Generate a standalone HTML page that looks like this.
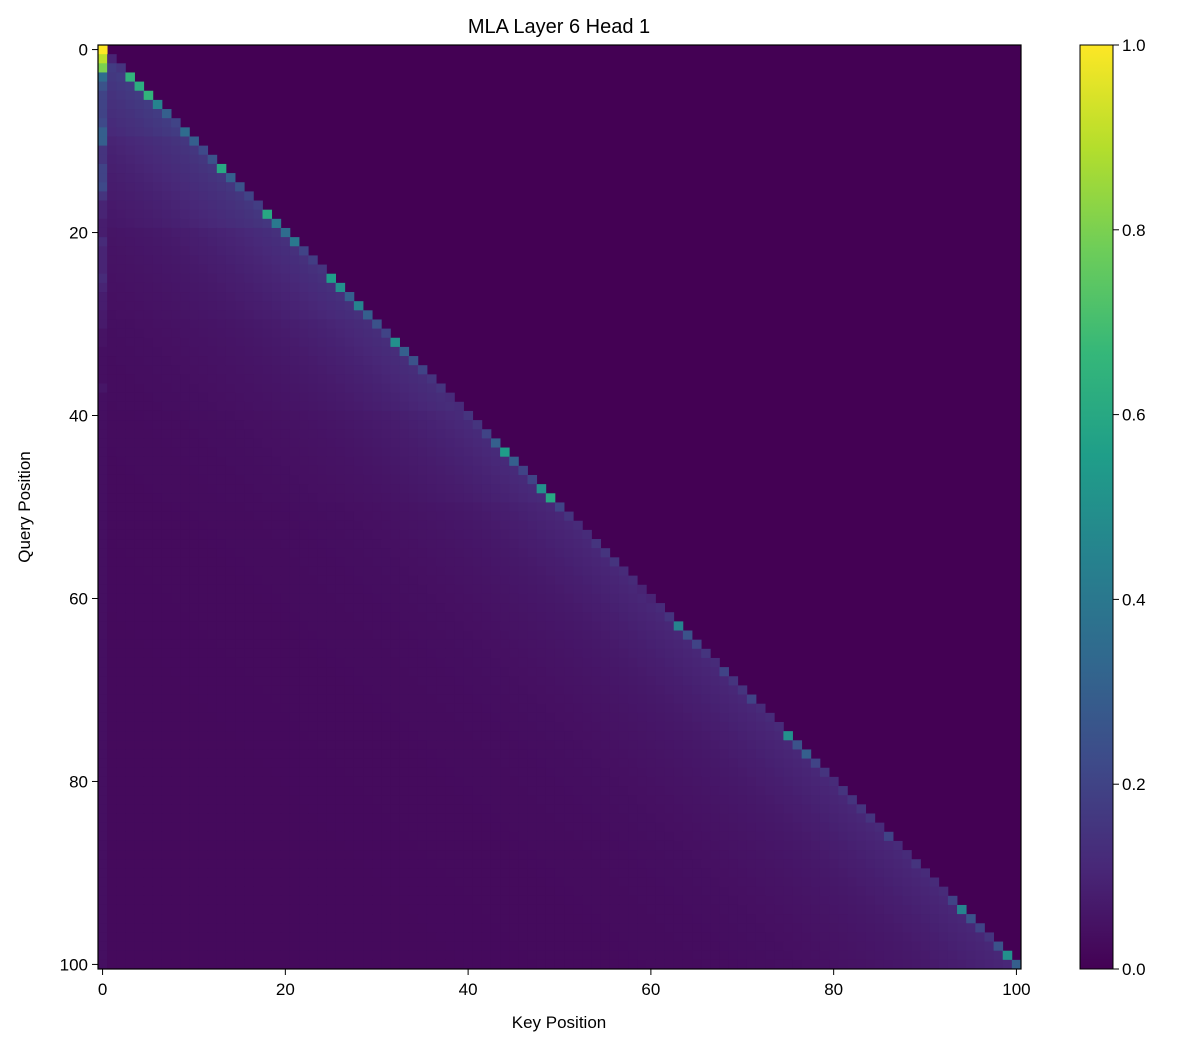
<!DOCTYPE html>
<html><head><meta charset="utf-8"><style>
body{margin:0;background:#fff;font-family:"Liberation Sans",sans-serif}
svg text{font-family:"Liberation Sans",sans-serif;fill:#000}
</style></head><body>
<svg id="c" width="1188" height="1048" xmlns="http://www.w3.org/2000/svg">
<text x="559" y="33" font-size="20" text-anchor="middle">MLA Layer 6 Head 1</text>
<text x="559" y="1028" font-size="17" text-anchor="middle">Key Position</text>
<text x="30" y="507" font-size="17" text-anchor="middle" transform="rotate(-90 30 507)">Query Position</text>
<g id="cells"></g>
<rect x="98" y="45" width="923" height="924" fill="none" stroke="#000" stroke-width="1.2"/>
<g id="ticks"></g>
<defs><linearGradient id="vg" x1="0" y1="1" x2="0" y2="0"></linearGradient></defs>
<rect x="1080" y="45" width="33" height="924" fill="url(#vg)" stroke="#000" stroke-width="1"/>
<g id="cbticks"></g>
</svg>
<script>
const N = 101;
const diagValues = [1.0,0.1,0.15,0.65,0.62,0.65,0.45,0.3,0.2,0.35,0.3,0.22,0.25,0.6,0.3,0.25,0.2,0.18,0.6,0.4,0.35,0.4,0.2,0.18,0.15,0.55,0.5,0.3,0.45,0.3,0.25,0.2,0.5,0.3,0.25,0.2,0.15,0.15,0.12,0.12,0.15,0.15,0.2,0.3,0.55,0.3,0.2,0.2,0.5,0.6,0.2,0.15,0.12,0.12,0.15,0.15,0.15,0.12,0.12,0.1,0.1,0.12,0.15,0.45,0.25,0.2,0.15,0.12,0.2,0.15,0.15,0.2,0.12,0.12,0.12,0.5,0.25,0.3,0.2,0.15,0.12,0.15,0.15,0.15,0.15,0.12,0.2,0.12,0.12,0.15,0.12,0.12,0.12,0.2,0.45,0.25,0.2,0.15,0.25,0.5,0.3];
const col0Values = [1.0,0.9,0.8,0.35,0.25,0.2,0.2,0.2,0.22,0.3,0.3,0.15,0.15,0.2,0.2,0.22,0.15,0.1,0.1,0.08,0.08,0.12,0.1,0.1,0.1,0.12,0.1,0.08,0.08,0.07,0.07,0.05,0.05,0.04,0.04,0.04,0.04,0.06,0.04,0.04];
const bandValues = [0.16,0.14,0.12,0.11,0.1,0.09,0.09,0.09,0.09,0.09,0.09];
const axisTicks = [0,20,40,60,80,100];
const cbTicks = [0,0.2,0.4,0.6,0.8,1.0];
const vir = [[68,1,84],[72,40,120],[62,74,137],[49,104,142],[38,130,142],[31,158,137],[53,183,121],[109,205,89],[180,222,44],[253,231,37]];
function cmap(v){v=Math.max(0,Math.min(1,v));const p=v*9,i=Math.min(8,Math.floor(p)),f=p-i;
 const a=vir[i],b=vir[i+1];return `rgb(${a.map((x,k)=>Math.round(x+(b[k]-x)*f)).join(',')})`;}
const X0=98,Y0=45,W=923,H=924,cw=W/N,ch=H/N;
const xs=v=>X0+v*cw, ys=v=>Y0+v*ch;
const NS='http://www.w3.org/2000/svg';
const g=document.getElementById('cells');
const bg=document.createElementNS(NS,'rect');
bg.setAttribute('x',X0);bg.setAttribute('y',Y0);bg.setAttribute('width',W);bg.setAttribute('height',H);bg.setAttribute('fill',cmap(0));


g.appendChild(bg);
function val(i,j){
 if(j>i) return 0;
 if(j===i) return diagValues[i];
 if(j===0) return col0Values[Math.min(i,col0Values.length-1)];
 const b=bandValues[Math.min(10,Math.floor(i/10))];
 const d=i-j;
 return 0.025+b*Math.exp(-d/14);
}
for(let i=0;i<N;i++)for(let j=0;j<=i;j++){
 const r=document.createElementNS(NS,'rect');
 r.setAttribute('x',xs(j).toFixed(2));r.setAttribute('y',ys(i).toFixed(2));
 r.setAttribute('width',(cw+0.4).toFixed(2));r.setAttribute('height',(ch+0.4).toFixed(2));
 r.setAttribute('fill',cmap(val(i,j)));
 
 
 g.appendChild(r);
}
const t=document.getElementById('ticks');
axisTicks.forEach(v=>{
 const x=xs(v+0.5), y=ys(v+0.5);
 t.insertAdjacentHTML('beforeend',`<line x1="${x}" y1="969" x2="${x}" y2="975" stroke="#000"/><text x="${x}" y="995" font-size="17" text-anchor="middle">${v}</text><line x1="92" y1="${y}" x2="98" y2="${y}" stroke="#000"/><text x="88" y="${y+6}" font-size="17" text-anchor="end">${v}</text>`);
});
const grad=document.getElementById('vg');
vir.forEach((c,k)=>{const s=document.createElementNS(NS,'stop');s.setAttribute('offset',k/9);s.setAttribute('stop-color',`rgb(${c.join(',')})`);grad.appendChild(s);});
const cb=document.getElementById('cbticks');
cbTicks.forEach(v=>{const y=969-924*v;
 cb.insertAdjacentHTML('beforeend',`<line x1="1113" y1="${y}" x2="1119" y2="${y}" stroke="#000"/><text x="1122" y="${y+6}" font-size="17">${v.toFixed(1)}</text>`);});
</script>
</body></html>
